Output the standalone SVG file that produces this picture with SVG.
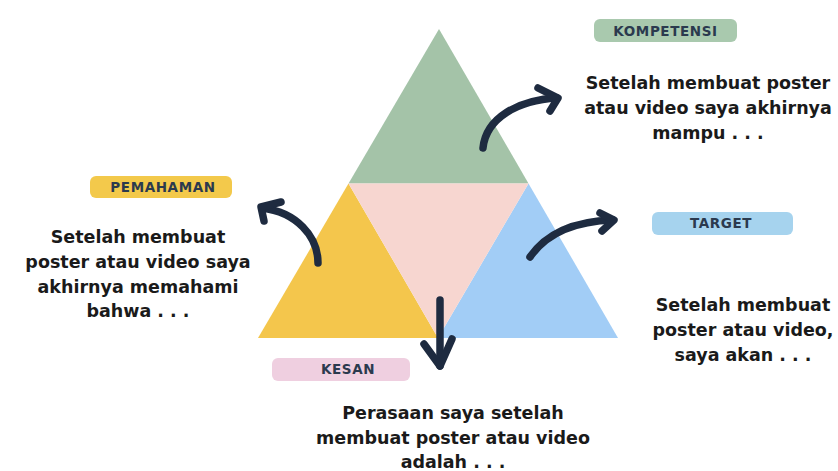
<svg xmlns="http://www.w3.org/2000/svg" width="838" height="471" viewBox="0 0 838 471">
<style>
.lbl{font-family:"DejaVu Sans","Liberation Sans",sans-serif;font-weight:bold;font-size:13.5px;fill:#2b3a4e;text-anchor:middle;letter-spacing:0.6px}
.body{font-family:"DejaVu Sans","Liberation Sans",sans-serif;font-weight:bold;font-size:17.5px;fill:#1a1a1a;text-anchor:middle}
.arr{fill:none;stroke:#1e2b40;stroke-width:7.5;stroke-linecap:round;stroke-linejoin:round}
</style>
<rect width="838" height="471" fill="#ffffff"/>
<g id="triangle">
<polygon points="439,29 348.5,183.5 528.5,183.5" fill="#a4c3a8"/>
<polygon points="348.5,183.5 258,338 438,338" fill="#f4c64c"/>
<polygon points="528.5,183.5 438,338 618,338" fill="#a2cdf6"/>
<polygon points="348.5,183.5 528.5,183.5 438,338" fill="#f7d6d0"/>
</g>
<g id="connectors">
<path class="arr" d="M483,148 C486,118 518,100 557,98"/>
<path class="arr" d="M538,88 L558,98 L550,111"/>
<path class="arr" d="M318,263 C318,236 296,212 262,208"/>
<path class="arr" d="M281,202 L261,207 L264,221"/>
<path class="arr" d="M530,257 C548,231 580,221 613,220"/>
<path class="arr" d="M600,213 L614,220 L602,231"/>
<path class="arr" d="M440,300 L440,366"/>
<path class="arr" d="M424,344 L440,366 L452,339"/>
</g>
<g id="kompetensi">
<rect x="594" y="19" width="143" height="23" rx="6" fill="#a9c9ae"/>
<text class="lbl" x="665.5" y="35.5">KOMPETENSI</text>
<text class="body" x="708" y="89">Setelah membuat poster</text>
<text class="body" x="708" y="114">atau video saya akhirnya</text>
<text class="body" x="708" y="139">mampu . . .</text>
</g>
<g id="pemahaman">
<rect x="90" y="176" width="142" height="22" rx="6" fill="#f3c94b"/>
<text class="lbl" x="163" y="192">PEMAHAMAN</text>
<text class="body" x="138" y="243">Setelah membuat</text>
<text class="body" x="138" y="268">poster atau video saya</text>
<text class="body" x="138" y="293">akhirnya memahami</text>
<text class="body" x="138" y="317">bahwa . . .</text>
</g>
<g id="target">
<rect x="652" y="212" width="141" height="23" rx="6" fill="#a6d3ee"/>
<text class="lbl" x="721" y="228">TARGET</text>
<text class="body" x="743" y="311">Setelah membuat</text>
<text class="body" x="743" y="336">poster atau video,</text>
<text class="body" x="743" y="361">saya akan . . .</text>
</g>
<g id="kesan">
<rect x="272" y="358" width="138" height="23" rx="6" fill="#efcfe0"/>
<text class="lbl" x="348" y="374">KESAN</text>
<text class="body" x="453" y="419">Perasaan saya setelah</text>
<text class="body" x="453" y="444">membuat poster atau video</text>
<text class="body" x="453" y="468">adalah . . .</text>
</g>
</svg>
